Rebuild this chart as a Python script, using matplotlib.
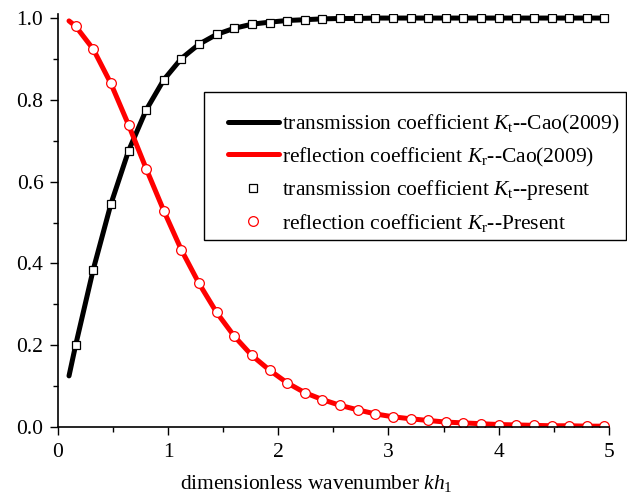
import matplotlib
matplotlib.use("Agg")
import matplotlib.pyplot as plt
from matplotlib.legend_handler import HandlerLine2D

plt.rcParams['font.family'] = ['Liberation Serif', 'DejaVu Serif']
plt.rcParams['mathtext.fontset'] = 'custom'
plt.rcParams['mathtext.rm'] = 'Liberation Serif'
plt.rcParams['mathtext.it'] = 'Liberation Serif:italic'

# Cao (2009) curves
cao_x = [0.10, 0.16, 0.32, 0.48, 0.64, 0.80, 0.96, 1.12, 1.28, 1.44, 1.60, 1.76,
         1.92, 2.08, 2.24, 2.40, 2.56, 2.72, 2.88, 3.04, 3.20, 3.36, 3.52, 3.68,
         3.84, 4.00, 4.16, 4.32, 4.48, 4.64, 4.80, 4.96, 5.00]
cao_kt = [0.125, 0.20, 0.385, 0.545, 0.675, 0.775, 0.849, 0.901, 0.936, 0.960, 0.975, 0.985,
          0.990, 0.994, 0.996, 0.998, 0.999, 0.999, 1.0, 1.0, 1.0, 1.0, 1.0, 1.0,
          1.0, 1.0, 1.0, 1.0, 1.0, 1.0, 1.0, 1.0, 1.0]
cao_kr = [0.993, 0.980, 0.924, 0.840, 0.739, 0.632, 0.529, 0.433, 0.351, 0.280, 0.222, 0.175,
          0.139, 0.108, 0.084, 0.067, 0.053, 0.042, 0.032, 0.025, 0.020, 0.016, 0.012, 0.010,
          0.008, 0.006, 0.005, 0.004, 0.003, 0.003, 0.002, 0.002, 0.002]

# present results
kh = [0.16, 0.32, 0.48, 0.64, 0.80, 0.96, 1.12, 1.28, 1.44, 1.60, 1.76, 1.92,
      2.08, 2.24, 2.40, 2.56, 2.72, 2.88, 3.04, 3.20, 3.36, 3.52, 3.68, 3.84,
      4.00, 4.16, 4.32, 4.48, 4.64, 4.80, 4.96]
kt_present = [0.20, 0.384, 0.545, 0.675, 0.775, 0.848, 0.901, 0.936, 0.961, 0.975, 0.985, 0.989,
              0.994, 0.996, 0.998, 0.999, 0.999, 1.0, 1.0, 1.0, 1.0, 1.0, 1.0, 1.0,
              1.0, 1.0, 1.0, 1.0, 1.0, 1.0, 1.0]
kr_present = [0.980, 0.924, 0.840, 0.739, 0.632, 0.529, 0.433, 0.351, 0.280, 0.222, 0.175, 0.139,
              0.108, 0.084, 0.067, 0.053, 0.042, 0.032, 0.025, 0.020, 0.016, 0.012, 0.010, 0.008,
              0.006, 0.005, 0.004, 0.003, 0.003, 0.002, 0.002]

fig = plt.figure(figsize=(6.27, 4.99), dpi=100)
ax = fig.add_axes([0.0925, 0.1443, 0.8785, 0.8277])

ax.plot(cao_x, cao_kt, color='black', lw=3.6, solid_capstyle='round',
        label=r'transmission coefficient $K_\mathrm{t}$--Cao(2009)')
ax.plot(cao_x, cao_kr, color='red', lw=3.6, solid_capstyle='round',
        label=r'reflection coefficient $K_\mathrm{r}$--Cao(2009)')
ax.plot(kh, kt_present, ls='none', marker='s', ms=5.5, mfc='white', mec='black', mew=0.9,
        label=r'transmission coefficient $K_\mathrm{t}$--present')
ax.plot(kh, kr_present, ls='none', marker='o', ms=7, mfc='white', mec='red', mew=0.9,
        label=r'reflection coefficient $K_\mathrm{r}$--Present')

ax.set_xlim(0, 5)
ax.set_ylim(0, 1.01)
ax.set_xticks([0, 1, 2, 3, 4, 5])
ax.set_xticks([0.5, 1.5, 2.5, 3.5, 4.5], minor=True)
ax.set_yticks([0.0, 0.2, 0.4, 0.6, 0.8, 1.0])
ax.set_yticklabels(['0.0', '0.2', '0.4', '0.6', '0.8', '1.0'])
ax.set_yticks([0.1, 0.3, 0.5, 0.7, 0.9], minor=True)
ax.tick_params(which='major', direction='out', length=5.5, width=1, labelsize=15.5)
ax.tick_params(axis='x', which='major', pad=6)
ax.tick_params(axis='y', which='major', pad=5)
ax.tick_params(which='minor', direction='out', length=3.5, width=1)

for side in ['top', 'right']:
    ax.spines[side].set_visible(False)
for side in ['left', 'bottom']:
    ax.spines[side].set_linewidth(1.2)

ax.set_xlabel(r'dimensionless wavenumber $kh_1$', fontsize=15.5)
ax.xaxis.set_label_coords(0.469, -0.112)

pad_handler = HandlerLine2D(xpad=0.81)
leg = ax.legend(loc='upper left', bbox_to_anchor=(0.265, 0.812), borderaxespad=0,
                fontsize=15.5, frameon=True, fancybox=False, edgecolor='black',
                framealpha=1, handlelength=3.18, handletextpad=0.15,
                labelspacing=0.45, borderpad=0.3, title=' ', title_fontsize=5,
                handler_map={ln: pad_handler for ln in ax.get_lines()})
leg.get_frame().set_linewidth(1.0)
leg._legend_box.align = 'left'

fig.savefig('out.png', dpi=100)
